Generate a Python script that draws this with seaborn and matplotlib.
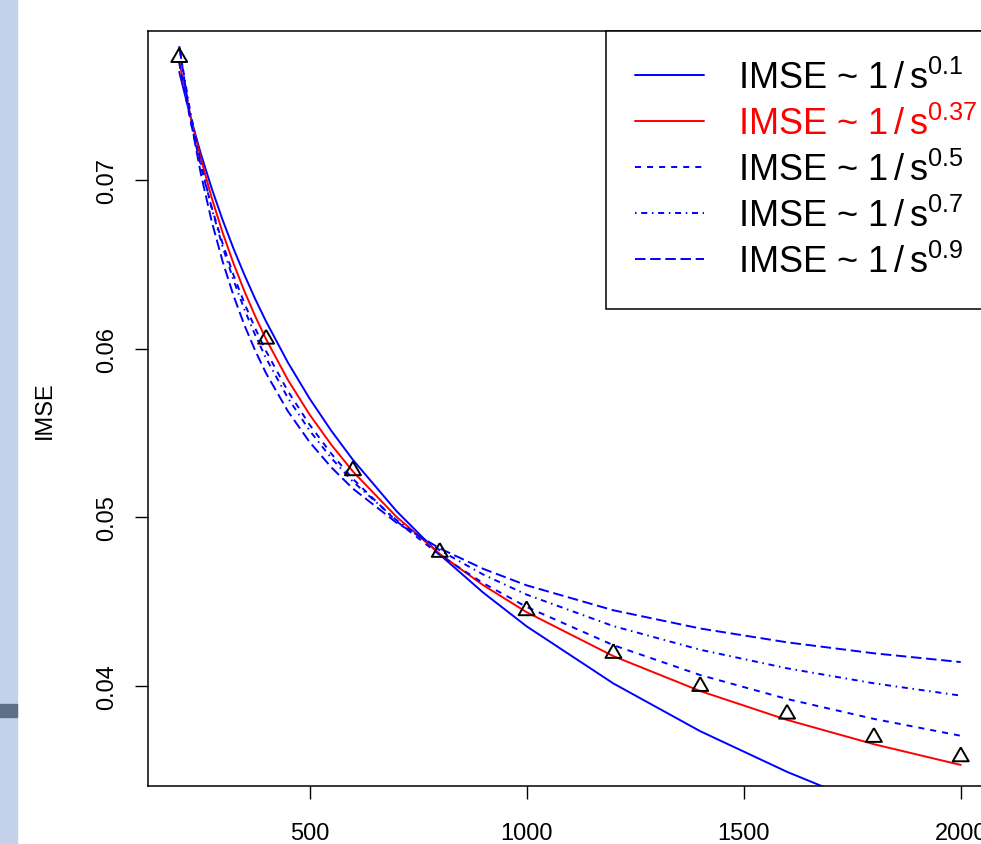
import numpy as np
import pandas as pd
import matplotlib
matplotlib.use("Agg")
import matplotlib.pyplot as plt
from matplotlib.patches import Rectangle
import seaborn as sns

sns.set_style("white")
plt.rcParams['font.family'] = ['Liberation Sans', 'DejaVu Sans']
plt.rcParams['mathtext.default'] = 'regular'

# observed IMSE (triangles)
s_obs = [200, 400, 600, 800, 1000, 1200, 1400, 1600, 1800, 2000]
imse_obs = [0.07727, 0.06057, 0.05277, 0.04793, 0.04447, 0.04194, 0.03998, 0.03834, 0.03696, 0.03581]

# fitted curves IMSE ~ 1/s^p
s_grid = [200, 225, 250, 275, 300, 325, 350, 375, 400, 450, 500, 550, 600, 700, 800, 900,
          1000, 1200, 1400, 1600, 1800, 2000]
fit_p01 = [0.07641, 0.07382, 0.07153, 0.06948, 0.06762, 0.06593, 0.06438, 0.06294, 0.06161, 0.05919, 0.05705,
           0.05514, 0.05341, 0.05038, 0.04779, 0.04554, 0.04354, 0.04015, 0.03732, 0.03491, 0.03280, 0.03095]
fit_p037 = [0.07700, 0.07390, 0.07124, 0.06892, 0.06687, 0.06505, 0.06341, 0.06192, 0.06056, 0.05816, 0.05610,
            0.05431, 0.05272, 0.05004, 0.04783, 0.04598, 0.04438, 0.04177, 0.03970, 0.03799, 0.03655, 0.03532]
fit_p05 = [0.07694, 0.07360, 0.07078, 0.06835, 0.06623, 0.06436, 0.06270, 0.06120, 0.05985, 0.05749, 0.05550,
           0.05378, 0.05228, 0.04978, 0.04777, 0.04610, 0.04469, 0.04242, 0.04065, 0.03923, 0.03805, 0.03705]
fit_p07 = [0.07790, 0.07410, 0.07095, 0.06830, 0.06603, 0.06406, 0.06233, 0.06080, 0.05943, 0.05709, 0.05515,
           0.05352, 0.05212, 0.04984, 0.04805, 0.04661, 0.04542, 0.04355, 0.04215, 0.04105, 0.04016, 0.03943]
fit_p09 = [0.07793, 0.07373, 0.07033, 0.06752, 0.06516, 0.06314, 0.06140, 0.05988, 0.05854, 0.05630, 0.05447,
           0.05297, 0.05170, 0.04969, 0.04816, 0.04695, 0.04597, 0.04449, 0.04341, 0.04259, 0.04194, 0.04142]

labels = [r'IMSE ~ 1$\,/\,$s$^{0.1}$', r'IMSE ~ 1$\,/\,$s$^{0.37}$', r'IMSE ~ 1$\,/\,$s$^{0.5}$',
          r'IMSE ~ 1$\,/\,$s$^{0.7}$', r'IMSE ~ 1$\,/\,$s$^{0.9}$']
curves = [fit_p01, fit_p037, fit_p05, fit_p07, fit_p09]
colors = ['#0000FF', '#FF0000', '#0000FF', '#0000FF', '#0000FF']
dashes = [None, None, (3.1, 3.1), (0.8, 2.4, 3.1, 2.4), (5.4, 2.4)]

fig = plt.figure(figsize=(9.81, 8.45), dpi=100)
ax = fig.add_axes([148/981, 1 - 787/845, 844/981, 755/845])

# slide background strip on the left
fig.patches.append(Rectangle((0, 0), 17/981, 1, transform=fig.transFigure,
                             color='#C3D2EA', zorder=-1))
fig.patches.append(Rectangle((0, 1 - 718/845), 17/981, 13/845, transform=fig.transFigure,
                             color='#5E7085', zorder=-1))

handles = []
for vals, col, dsh, lab in zip(curves, colors, dashes, labels):
    sns.lineplot(x=s_grid, y=vals, color=col, linewidth=1.4, ax=ax, label=lab)
    line = ax.lines[-1]
    if dsh is not None:
        line.set_dashes(dsh)
    handles.append(line)

tri = [(0, 1), (-0.866, -0.5), (0.866, -0.5), (0, 1)]
sns.scatterplot(x=s_obs, y=imse_obs, marker=tri, s=175, color='black', ax=ax, zorder=5)
pts = ax.collections[-1]
pts.set_facecolor('none')
pts.set_edgecolor('black')
pts.set_linewidth(1.4)

ax.set_xlim(128, 2072)
ax.set_ylim(0.034072, 0.078834)
ax.set_xticks([500, 1000, 1500, 2000])
ax.set_xticklabels(['500', '1000', '1500', '2000'])
ax.set_yticks([0.04, 0.05, 0.06, 0.07])
ax.set_yticklabels(['0.04', '0.05', '0.06', '0.07'], rotation=90, va='center')
ax.tick_params(axis='both', direction='out', length=9.7, width=1.0, color='black',
               labelcolor='black', labelsize=17, bottom=True, left=True)
ax.tick_params(axis='x', pad=16)
ax.tick_params(axis='y', pad=11.7)
ax.set_xlabel('')
ax.set_ylabel('')
for sp in ax.spines.values():
    sp.set_color('black')
    sp.set_linewidth(1.1)

fig.text(45/981, 1 - 410/845, 'IMSE', rotation=90, ha='center', va='center',
         fontsize=17, color='black')

leg = ax.legend(handles=handles, labels=labels, loc='upper left',
                bbox_to_anchor=(606/981, 1 - 32/845), bbox_transform=fig.transFigure,
                borderaxespad=0, fontsize=26, handlelength=1.9, handletextpad=0.95,
                borderpad=0.8, labelspacing=0.27, fancybox=False, framealpha=1)
leg.get_frame().set_edgecolor('black')
leg.get_frame().set_linewidth(1.1)
for t in leg.get_texts():
    t.set_color('black')
leg.get_texts()[1].set_color('#FF0000')

fig.savefig('out.png', dpi=100)
